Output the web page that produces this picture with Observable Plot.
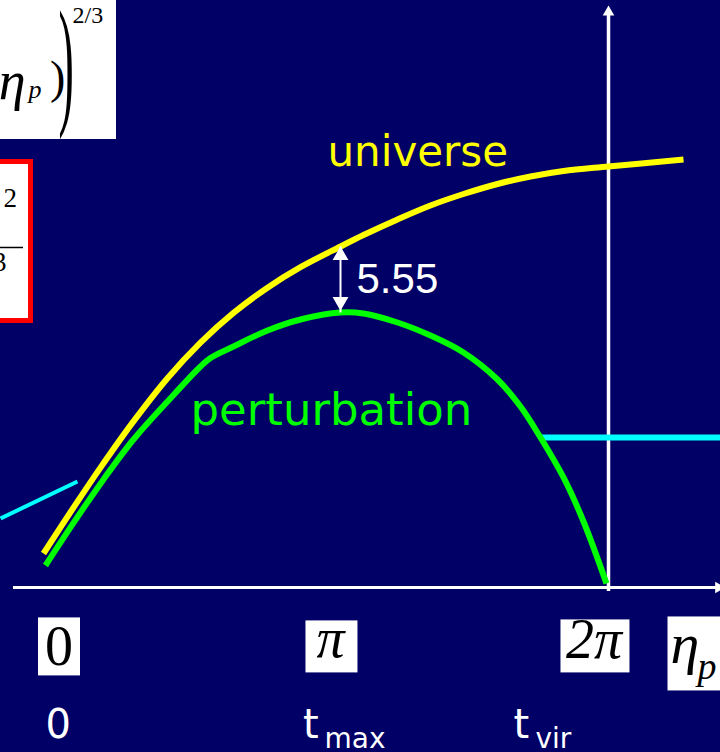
<!DOCTYPE html>
<html>
<head>
<meta charset="utf-8">
<script src="https://cdn.jsdelivr.net/npm/d3@7"></script>
<script src="https://cdn.jsdelivr.net/npm/@observablehq/plot@0.6"></script>
<style>
  html, body { margin: 0; padding: 0; background: #000066; overflow: hidden; }
  #chart svg { display: block; }
</style>
</head>
<body>
<div id="chart"></div>
<script>
// Spherical collapse: the background universe keeps expanding while an
// overdense perturbation reaches turnaround (η_p = π) and collapses (η_p = 2π).
// x: development angle η_p in units of π; y: radius in units of the turnaround radius.

const universeEta = [-0.0071, 0.0998, 0.1961, 0.3137, 0.4349, 0.5526, 0.6702, 0.7914, 0.9091, 1.0517,
                     1.1337, 1.2549, 1.3725, 1.4902, 1.6114, 1.7291, 1.8467, 2.0071, 2.2745];
const universeR   = [0.1241, 0.2916, 0.4376, 0.6062, 0.7639, 0.8938, 1.0022, 1.0942, 1.1690, 1.2445,
                     1.2865, 1.3434, 1.3942, 1.4361, 1.4726, 1.5000, 1.5201, 1.5365, 1.5620];

const perturbEta  = [0.0000, 0.0998, 0.2068, 0.3137, 0.4349, 0.5526, 0.5882, 0.6702, 0.7914, 0.9091,
                     1.0517, 1.1337, 1.2549, 1.3725, 1.4902, 1.6114, 1.6934, 1.7647, 1.8467, 1.9180, 2.0000];
const perturbR    = [0.0803, 0.2358, 0.3945, 0.5401, 0.6788, 0.8066, 0.8376, 0.8796, 0.9380, 0.9781,
                     1.0036, 1.0000, 0.9672, 0.9197, 0.8577, 0.7591, 0.6606, 0.5474, 0.4015, 0.2409, 0.0146];

// linear-growth segment and the virialized radius after collapse
const linearEta = [-0.160, 0.114];
const linearR   = [0.252, 0.387];
const virialEta = [1.7647, 2.410];
const virialR   = [0.5474, 0.5474];

const tickValues     = [0, 1, 2];
const tickLabels     = ["0", "π", "2π"];
const timeLabels     = ["0", "t", "t"];
const timeSubscripts = ["", "max", "vir"];
const densityContrast = "5.55";

// ---- derived tables -------------------------------------------------------
const universe = universeEta.map((eta, i) => ({eta, r: universeR[i]}));
const perturbation = perturbEta.map((eta, i) => ({eta, r: perturbR[i]}));
const linear = linearEta.map((eta, i) => ({eta, r: linearR[i]}));
const virial = virialEta.map((eta, i) => ({eta, r: virialR[i]}));

const iTurn = d3.maxIndex(perturbR);
const etaTurn = perturbEta[iTurn];
const rTurn = perturbR[iTurn];
const rUniverseTurn = universeR[universeEta.indexOf(etaTurn)];

// ---- layout ---------------------------------------------------------------
const xDomain = [-0.1604, 2.4064];
const yDomain = [-0.6022, 2.1423];
const navy = "#000066";
const sans = "DejaVu Sans";
const serif = "Liberation Serif";

const tickNudge = [13.5, 4.5, -12.5];
const tickDy = [60, 52, 53];
const timeNudge = [0, -23, -93];
const subNudge = [0, -1.5, -71];

const marks = [
  // fragments of the formula boxes at the left edge
  Plot.rect([0], {x1: xDomain[0] - 0.05, x2: 0.2531, y1: 1.635, y2: yDomain[1] + 0.05, fill: "white"}),
  Plot.rect([0], {x1: xDomain[0] - 0.05, x2: -0.0517, y1: 0.9726, y2: 1.5529,
                  fill: "white", stroke: "#ff0000", strokeWidth: 5}),
  Plot.ruleY([1.2409], {x1: xDomain[0], x2: -0.0784, stroke: "black", strokeWidth: 1.5}),
  Plot.text(["2"], {x: -0.1497, y: 1.4219, text: d => d, textAnchor: "start",
                    fontFamily: serif, fontSize: 27, fill: "black"}),
  Plot.text(["3"], {x: -0.139, y: 1.188, text: d => d, textAnchor: "end",
                    fontFamily: serif, fontSize: 27, fill: "black"}),
  Plot.text(["η"], {x: -0.0713, y: 1.8467, text: d => d, textAnchor: "end",
                    fontFamily: serif, fontStyle: "italic", fontSize: 54, fill: "black"}),
  Plot.text(["p"], {x: -0.0606, y: 1.8186, text: d => d, textAnchor: "start",
                    fontFamily: serif, fontStyle: "italic", fontSize: 26, fill: "black"}),
  Plot.text([")"], {x: 0.0160, y: 1.860, text: d => d, textAnchor: "start",
                    fontFamily: serif, fontSize: 46, fill: "black"}),
  Plot.text([")"], {x: 0.0463, y: 1.9124, text: d => d, textAnchor: "start", ariaDescription: "bracket",
                    fontFamily: serif, fontSize: 46, fill: "black"}),
  Plot.text(["2/3"], {x: 0.0963, y: 2.0876, text: d => d, textAnchor: "start",
                      fontFamily: serif, fontSize: 24, fill: "black"}),

  // axes
  Plot.ruleY([0], {x1: -0.1141, x2: 2.392, stroke: "white", strokeWidth: 3}),
  Plot.dot([0], {x: 2.3993, y: 0, symbol: "triangle", r: 4.3, rotate: 90, fill: "white", stroke: "none"}),
  Plot.ruleX([2], {y1: -0.0146, y2: 2.0912, stroke: "white", strokeWidth: 3.5, dx: 2}),
  Plot.dot([2], {x: d => d, y: 2.0996, symbol: "triangle", r: 4.3, fill: "white", stroke: "none", dx: 2}),

  // curves
  Plot.line(linear, {x: "eta", y: "r", stroke: "#00ffff", strokeWidth: 4, strokeLinecap: "butt"}),
  Plot.line(virial, {x: "eta", y: "r", stroke: "#00ffff", strokeWidth: 6, strokeLinecap: "butt"}),
  Plot.line(perturbation, {x: "eta", y: "r", stroke: "#00ff00", strokeWidth: 6,
                           curve: "catmull-rom", strokeLinecap: "butt"}),
  Plot.line(universe, {x: "eta", y: "r", stroke: "#ffff00", strokeWidth: 6,
                       curve: "catmull-rom", strokeLinecap: "butt"}),

  // density contrast at turnaround
  Plot.link([0], {x1: etaTurn, x2: etaTurn, y1: rTurn, y2: rUniverseTurn, stroke: "white", strokeWidth: 2}),
  Plot.dot([0], {x: etaTurn, y: rUniverseTurn, symbol: "triangle", r: 5.9, fill: "white", stroke: "none", dy: 9}),
  Plot.dot([0], {x: etaTurn, y: rTurn, symbol: "triangle", r: 5.9, rotate: 180, fill: "white", stroke: "none", dy: -11}),
  Plot.text([densityContrast], {x: etaTurn, y: (rTurn + rUniverseTurn) / 2, text: d => d, dx: 16,
                                textAnchor: "start", fontFamily: "Liberation Sans", fontSize: 42, fill: "white"}),

  // curve names
  Plot.text(["universe"], {x: 1.0053, y: 1.589, text: d => d, textAnchor: "start",
                           fontFamily: sans, fontSize: 42, fill: "#ffff00"}),
  Plot.text(["perturbation"], {x: 0.5169, y: 0.6438, text: d => d, textAnchor: "start",
                               fontFamily: sans, fontSize: 45, fill: "#00ff00"}),

  // η_p tick labels
  ...tickValues.map((v, i) => Plot.text([v], {
    x: d => d, y: 0, text: () => tickLabels[i], dx: tickNudge[i], dy: tickDy[i],
    ariaDescription: "tick " + i, fontFamily: serif, fontStyle: i ? "italic" : "normal",
    fontSize: 56, fill: "black"
  })),
  Plot.text(["η"], {x: 2.2282, y: 0, text: d => d, dy: 57.4, textAnchor: "start", ariaDescription: "axis eta",
                    fontFamily: serif, fontStyle: "italic", fontSize: 58, fill: "black"}),
  Plot.text(["p"], {x: 2.3244, y: 0, text: d => d, dy: 79.8, textAnchor: "start", ariaDescription: "axis p",
                    fontFamily: serif, fontStyle: "italic", fontSize: 38, fill: "black"}),

  // time labels
  ...tickValues.map((v, i) => Plot.text([v], {
    x: d => d, y: 0, text: () => timeLabels[i], dx: timeNudge[i], dy: 137.2,
    textAnchor: "start", fontFamily: sans, fontSize: 40, fill: "white"
  })),
  ...tickValues.map((v, i) => Plot.text([v], {
    x: d => d, y: 0, text: () => timeSubscripts[i], dx: subNudge[i], dy: 152,
    textAnchor: "start", fontFamily: sans, fontSize: 28, fill: "white"
  }))
];

const svg = Plot.plot({
  width: 720,
  height: 752,
  margin: 0,
  x: {domain: xDomain, axis: null},
  y: {domain: yDomain, axis: null},
  style: {background: navy, overflow: "hidden"},
  marks
});
document.getElementById("chart").append(svg);

const groupTexts = (name) => svg.querySelectorAll(`g[aria-description="${name}"] text`);

// tall closing bracket around the formula fragment
for (const el of groupTexts("bracket")) {
  const tf = el.getAttribute("transform");
  if (tf) el.setAttribute("transform", tf + " scale(1,3.1)");
  else {
    const x = +el.getAttribute("x") || 0, y = +el.getAttribute("y") || 0;
    el.removeAttribute("x"); el.removeAttribute("y");
    el.setAttribute("transform", `translate(${x},${y}) scale(1,3.1)`);
  }
}

// white boxes behind the η_p labels
const origin = svg.getBoundingClientRect();
const boxLayer = document.createElementNS("http://www.w3.org/2000/svg", "g");
function boxBehind(names, spec) {
  let x0 = Infinity, x1 = -Infinity, y0 = Infinity, y1 = -Infinity;
  for (const name of names) {
    for (const t of groupTexts(name)) {
      const r = t.getBoundingClientRect();
      x0 = Math.min(x0, r.left - origin.left);
      x1 = Math.max(x1, r.right - origin.left);
      y0 = Math.min(y0, r.top - origin.top);
      y1 = Math.max(y1, r.bottom - origin.top);
    }
  }
  if (!isFinite(x0)) return;
  let left, right;
  if (spec.width) {
    const c = (x0 + x1) / 2;
    left = c - spec.width / 2; right = c + spec.width / 2;
  } else {
    left = x0 - spec.padLeft; right = x1 + spec.padRight;
  }
  const top = y0 + spec.top, bottom = y1 - spec.bottom;
  const rect = document.createElementNS("http://www.w3.org/2000/svg", "rect");
  rect.setAttribute("x", left);
  rect.setAttribute("y", top);
  rect.setAttribute("width", right - left);
  rect.setAttribute("height", bottom - top);
  rect.setAttribute("fill", "white");
  boxLayer.append(rect);
}
boxBehind(["tick 0"], {width: 42, top: 2, bottom: 2});
boxBehind(["tick 1"], {width: 52, top: 13, bottom: -3});
boxBehind(["tick 2"], {width: 69, top: 11, bottom: -2});
boxBehind(["axis eta", "axis p"], {padLeft: 3, padRight: 10, top: 5, bottom: -3});
const firstLabel = svg.querySelector('g[aria-description="tick 0"]');
svg.insertBefore(boxLayer, firstLabel);
</script>
</body>
</html>
